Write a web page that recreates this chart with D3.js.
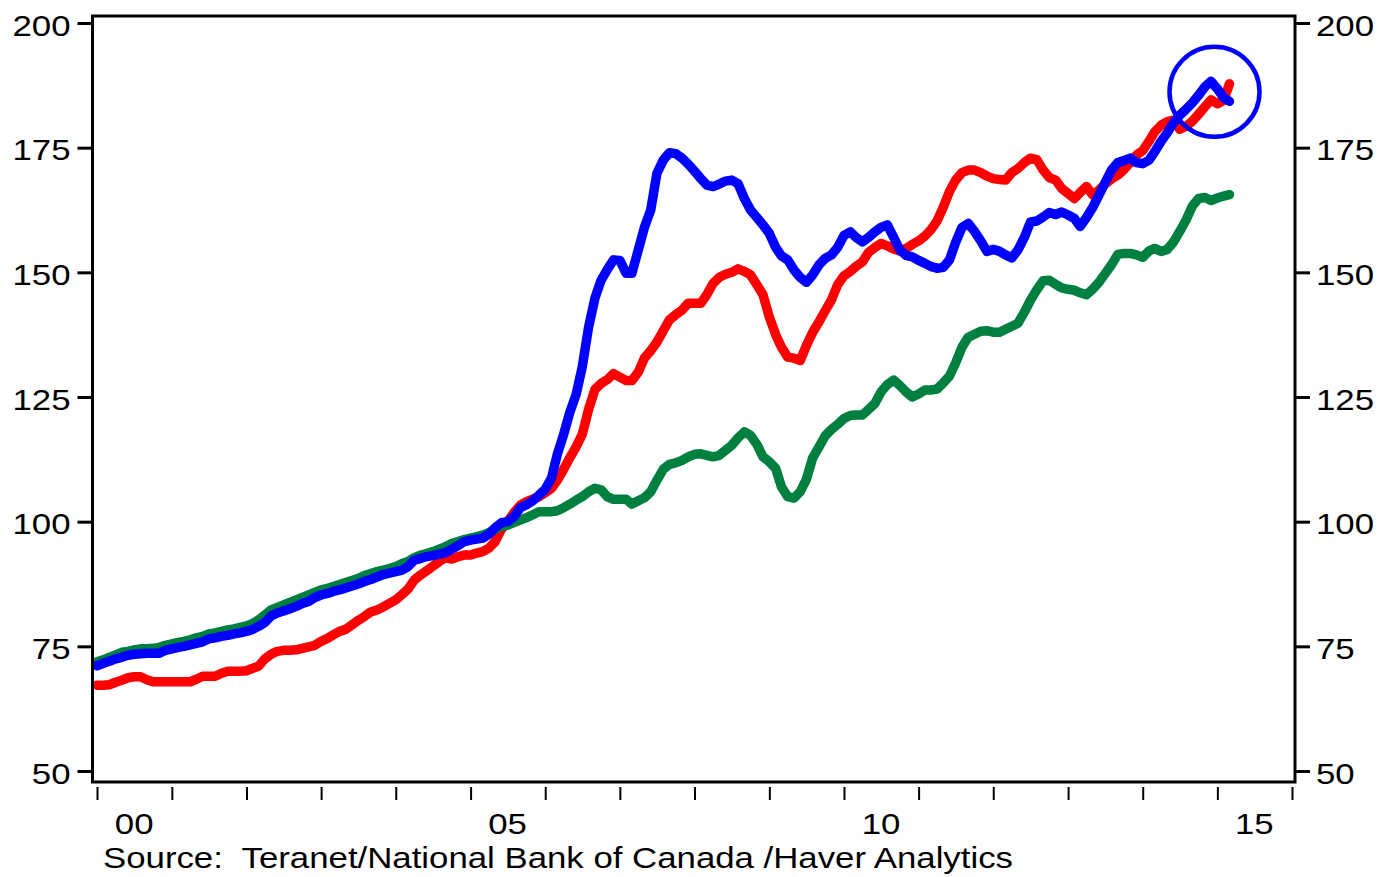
<!DOCTYPE html>
<html>
<head>
<meta charset="utf-8">
<script src="https://cdn.jsdelivr.net/npm/d3@7"></script>
<style>
  body { margin: 0; background: #fff; }
  svg { display: block; font-family: "Liberation Sans", Arial, sans-serif; }
</style>
</head>
<body>
<svg id="chart" width="1380" height="877"></svg>
<script>
// monthly index values, Jan 2000 .. Mar 2015
const redSeries = [
  67.2, 67.2, 67.3, 67.8, 68.2, 68.7, 68.9, 68.9, 68.3, 67.9, 67.9, 67.9,
  67.9, 67.9, 67.9, 67.9, 68.4, 69.0, 69.0, 69.0, 69.6, 70.0, 70.0, 70.0,
  70.1, 70.6, 71.0, 72.5, 73.4, 74.0, 74.2, 74.2, 74.3, 74.6, 74.9, 75.2,
  76.0, 76.6, 77.3, 78.0, 78.4, 79.3, 80.2, 81.0, 81.9, 82.3, 82.9, 83.6,
  84.3, 85.4, 86.5, 88.3, 89.3, 90.2, 91.1, 92.0, 92.8, 92.5, 93.0, 93.3,
  93.3, 93.7, 94.0, 94.7, 96.0, 98.5, 100.0, 101.8, 103.3, 104.0, 104.5, 105.0,
  105.8, 106.7, 108.3, 110.5, 112.8, 115.0, 117.5, 122.5, 126.5, 127.7, 128.5, 129.7,
  129.0, 128.3, 128.3, 130.0, 132.8, 134.3, 136.0, 138.3, 140.5, 141.5, 142.4, 143.8,
  143.8, 143.8, 145.5, 147.8, 149.0, 149.6, 150.0, 150.7, 150.2, 149.5, 147.5, 145.5,
  141.0, 137.5, 135.0, 133.0, 132.8, 132.3, 135.3, 138.0, 140.1, 142.3, 144.5, 147.5,
  149.3, 150.2, 151.2, 152.1, 154.0, 155.0, 155.8, 155.3, 154.7, 154.3, 154.8, 155.6,
  156.3, 157.3, 158.5, 160.3, 163.0, 166.2, 168.5, 170.0, 170.5, 170.5, 170.0, 169.3,
  168.8, 168.6, 168.5, 170.0, 170.8, 172.0, 172.9, 172.6, 170.5, 169.0, 168.5, 166.8,
  165.8, 164.8, 166.0, 167.2, 165.5, 166.5, 167.7, 168.7, 169.5, 170.6, 172.0, 173.5,
  174.4, 176.3, 178.2, 179.5, 180.2, 180.5, 178.7, 179.3, 180.3, 181.7, 183.2, 184.6,
  183.8, 184.5, 187.8
];
const greenSeries = [
  71.9, 72.3, 72.8, 73.3, 73.8, 74.0, 74.3, 74.5, 74.5, 74.6, 74.8, 75.2,
  75.5, 75.8, 76.0, 76.3, 76.7, 77.0, 77.5, 77.7, 78.0, 78.3, 78.5, 78.8,
  79.1, 79.6, 80.3, 81.3, 82.3, 82.8, 83.3, 83.8, 84.3, 84.8, 85.3, 85.8,
  86.3, 86.6, 87.0, 87.4, 87.8, 88.2, 88.6, 89.2, 89.6, 90.0, 90.3, 90.6,
  91.0, 91.6, 92.0, 92.8, 93.3, 93.6, 94.0, 94.5, 95.0, 95.6, 96.0, 96.4,
  96.7, 97.0, 97.3, 97.8, 98.5, 99.0, 99.3, 99.8, 100.3, 100.8, 101.4, 102.0,
  102.0, 102.0, 102.2, 102.8, 103.5, 104.3, 105.0, 106.0, 106.7, 106.4, 105.0, 104.5,
  104.5, 104.5, 103.5, 104.2, 104.8, 106.0, 108.3, 110.5, 111.5, 111.8, 112.3, 113.0,
  113.5, 113.6, 113.3, 113.0, 113.3, 114.3, 115.3, 116.8, 118.0, 117.3, 115.5, 113.0,
  112.0, 110.7, 107.0, 105.0, 104.7, 106.0, 108.5, 112.8, 115.0, 117.2, 118.5, 119.5,
  120.7, 121.3, 121.4, 121.4, 122.5, 123.7, 126.0, 127.5, 128.4, 127.3, 126.0, 125.0,
  125.6, 126.4, 126.4, 126.6, 127.8, 129.2, 131.8, 135.0, 137.0, 137.6, 138.2, 138.3,
  138.0, 138.0, 138.6, 139.2, 139.8, 142.0, 144.4, 146.5, 148.3, 148.4, 147.6, 146.9,
  146.6, 146.4, 145.9, 145.5, 146.6, 148.0, 149.7, 151.5, 153.6, 153.8, 153.8, 153.5,
  153.0, 154.3, 154.8, 154.2, 154.6, 156.1, 158.2, 160.5, 163.3, 164.8, 165.0, 164.4,
  164.9, 165.3, 165.6
];
const blueSeries = [
  71.1, 71.6, 72.0, 72.5, 72.8, 73.2, 73.4, 73.5, 73.6, 73.6, 73.6, 74.2,
  74.5, 74.8, 75.0, 75.3, 75.6, 75.9, 76.5, 76.7, 77.0, 77.2, 77.5, 77.7,
  78.0, 78.4, 79.0, 79.8, 81.1, 81.7, 82.1, 82.5, 83.0, 83.6, 84.0, 84.8,
  85.3, 85.6, 86.0, 86.3, 86.7, 87.1, 87.5, 88.0, 88.4, 88.9, 89.4, 89.7,
  90.0, 90.3, 91.0, 92.3, 92.6, 93.0, 93.2, 93.5, 93.8, 94.5, 95.2, 96.0,
  96.3, 96.5, 96.7, 97.5, 98.8, 99.8, 100.0, 101.0, 102.8, 103.4, 104.2, 105.3,
  106.5, 108.8, 113.5, 117.5, 121.9, 125.5, 131.0, 139.0, 144.8, 148.4, 150.6, 152.5,
  152.4, 149.8, 149.8, 154.5, 159.0, 162.5, 169.8, 172.5, 174.0, 173.8, 172.9, 171.7,
  170.3, 168.8, 167.5, 167.2, 167.7, 168.3, 168.5, 167.8, 164.8, 162.5, 161.0, 159.5,
  157.8, 155.0, 153.3, 152.5, 150.5, 149.0, 148.0, 149.5, 151.5, 152.8, 153.5, 155.0,
  157.4, 158.1, 157.0, 156.1, 157.0, 158.1, 159.0, 159.5, 157.0, 154.5, 153.4, 153.1,
  152.4, 151.8, 151.2, 150.8, 151.0, 152.5, 156.0, 159.0, 159.8, 158.2, 156.3, 154.2,
  154.6, 154.2, 153.5, 152.9, 154.5, 157.0, 160.1, 160.3, 161.1, 162.0, 161.6, 162.1,
  161.5, 160.8, 159.2, 161.0, 163.0, 165.5, 168.0, 170.5, 172.0, 172.4, 172.9, 172.0,
  171.8, 172.5, 174.2, 176.3, 178.0, 180.0, 181.5, 182.7, 184.0, 185.5, 187.2, 188.3,
  186.8, 185.0, 184.3
];
const seriesColors = ["#ff0000", "#008040", "#0000ff"];
const yTicks = [50, 75, 100, 125, 150, 175, 200];
const yearLabels = ["00", "05", "10", "15"];
const labelYears = [2000, 2005, 2010, 2015];
const sourceText = "Source:  Teranet/National Bank of Canada /Haver Analytics";
// circled latest reading
const marker = { date: new Date(2014, 11, 18), value: 186.2 };

const svg = d3.select("#chart");
const plotLeft = 92.5, plotRight = 1295, plotTop = 16, plotBottom = 782;
const stretch = 1.16; // the original lettering is set wide

const start = new Date(2000, 0, 1);
const months = d3.timeMonth.range(start, d3.timeMonth.offset(start, redSeries.length));

const x = d3.scaleTime()
    .domain([new Date(2000, 0, 1), new Date(2016, 0, 1)])
    .range([97, 1292]);
const y = d3.scaleLinear()
    .domain([50, 200])
    .range([771, 23]);

const line = d3.line()
    .x(function(d, i) { return x(months[i]); })
    .y(function(d) { return y(d); });

svg.selectAll("path.series")
  .data([redSeries, greenSeries, blueSeries])
  .enter()
  .append("path")
    .attr("class", "series")
    .attr("d", line)
    .attr("fill", "none")
    .attr("stroke", function(d, i) { return seriesColors[i]; })
    .attr("stroke-width", 9.5)
    .attr("stroke-linejoin", "round")
    .attr("stroke-linecap", "round");

svg.append("circle")
    .attr("cx", x(marker.date))
    .attr("cy", y(marker.value))
    .attr("r", 45)
    .attr("fill", "none")
    .attr("stroke", "#0000ff")
    .attr("stroke-width", 4.5);

// frame
svg.append("rect")
    .attr("x", plotLeft)
    .attr("y", plotTop)
    .attr("width", plotRight - plotLeft)
    .attr("height", plotBottom - plotTop)
    .attr("fill", "none")
    .attr("stroke", "#000")
    .attr("stroke-width", 3);

const yLeft = svg.append("g")
    .attr("transform", "translate(" + plotLeft + ",0)")
    .call(d3.axisLeft(y).tickValues(yTicks).tickSize(15).tickPadding(7));
const yRight = svg.append("g")
    .attr("transform", "translate(" + plotRight + ",0)")
    .call(d3.axisRight(y).tickValues(yTicks).tickSize(15).tickPadding(6));

[yLeft, yRight].forEach(function(g) {
  g.select(".domain").remove();
  g.selectAll(".tick line").attr("stroke", "#000").attr("stroke-width", 3);
  g.selectAll(".tick text")
    .attr("fill", "#000")
    .attr("transform", function() {
      return "translate(" + d3.select(this).attr("x") + ",0) scale(" + stretch + ",1)";
    })
    .attr("x", 0)
    .attr("dy", "0.4em")
    .style("font-size", "30px")
    .style("font-family", "'Liberation Sans', Arial, sans-serif");
});

const xAxis = svg.append("g")
    .attr("transform", "translate(0,787)")
    .call(d3.axisBottom(x).ticks(d3.timeYear.every(1)).tickSize(13).tickFormat(""));
xAxis.select(".domain").remove();
xAxis.selectAll(".tick line").attr("stroke", "#000").attr("stroke-width", 2);

svg.selectAll("text.year")
  .data(labelYears)
  .enter()
  .append("text")
    .attr("class", "year")
    .attr("transform", function(d) {
      return "translate(" + x(new Date(d, 6, 1)) + ",834) scale(" + stretch + ",1)";
    })
    .attr("text-anchor", "middle")
    .style("font-size", "30px")
    .text(function(d, i) { return yearLabels[i]; });

svg.append("text")
    .attr("transform", "translate(103,868) scale(" + stretch + ",1)")
    .style("font-size", "30px")
    .style("white-space", "pre")
    .text(sourceText);
</script>
</body>
</html>
